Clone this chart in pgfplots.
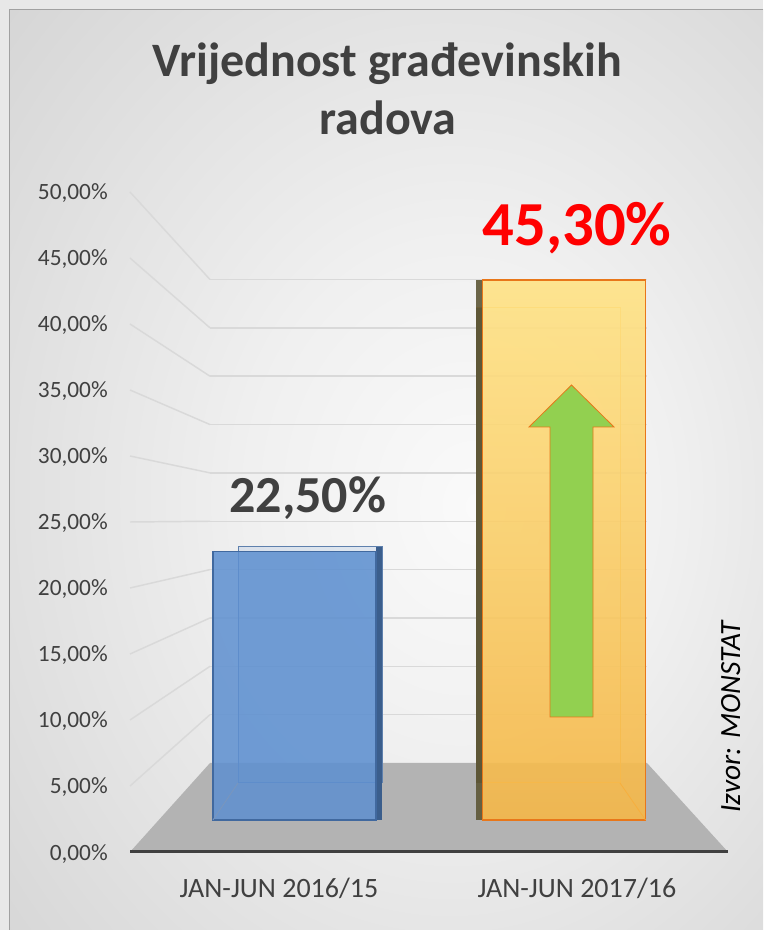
\documentclass[border=0pt]{standalone}
\usepackage{fontspec}
\setmainfont{Carlito}
\usepackage{pgfplots}
\pgfplotsset{compat=1.18}

\definecolor{outerbg}{HTML}{E8E8E8}
\definecolor{pc0}{HTML}{FAFAFA}
\definecolor{pc1}{HTML}{F0F0F0}
\definecolor{pc2}{HTML}{D4D4D4}
\definecolor{pc3}{HTML}{BEBEBE}
\definecolor{txt}{HTML}{404040}
\definecolor{gridc}{HTML}{D9D9D9}
\definecolor{floorc}{HTML}{B3B3B3}
\definecolor{bluef}{HTML}{5E90D0}
\definecolor{bluee}{HTML}{41699F}
\definecolor{blues}{HTML}{3B5E8C}
\definecolor{orgtop}{HTML}{FFE386}
\definecolor{orgbot}{HTML}{F5B748}
\definecolor{orge}{HTML}{E8771A}
\definecolor{orgs}{HTML}{5D5636}
\definecolor{arrowg}{HTML}{92D050}

\pgfdeclareradialshading{panelshade}{\pgfpoint{6bp}{-2bp}}{color(0bp)=(pc0); color(14bp)=(pc1); color(40bp)=(pc2); color(75bp)=(pc3)}

\pgfplotsset{
  common/.style={scale only axis, height=495pt, anchor=south west, clip=false,
    /pgf/number format/assume math mode=true,
    axis line style={draw=none}, tick style={draw=none},
    xtick=\empty, ytick=\empty},
}

\begin{document}
\begin{tikzpicture}
\begin{scope}[x=0.75pt,y=0.75pt]
  \fill[outerbg] (0,0) rectangle (763,930);
  \shade[shading=panelshade] (9,0) rectangle (763,920);
  \draw[color=pc3!85!black, line width=0.75pt] (9,0) -- (9,920) -- (763,920);
\end{scope}

% tick labels (front scale)
\begin{axis}[common, width=448.5pt, at={(97.5pt,58.5pt)},
  xmin=-0.6104, xmax=1.6085, ymin=0, ymax=50,
  ytick={0,5,...,50},
  yticklabel={\pgfmathprintnumber[fixed,fixed zerofill,precision=2,use comma]{\tick}\%},
  yticklabel style={anchor=base east, inner sep=0pt, xshift=-16.5pt, yshift=-6pt,
    font=\fontsize{17.5}{20}\selectfont, text=txt},
  xtick={-0.0575,1.048},
  xticklabels={JAN-JUN 2016/15, JAN-JUN 2017/16},
  xticklabel style={anchor=base, inner sep=0pt, yshift=-33.75pt,
    font=\fontsize{21}{24}\selectfont, text=txt},
]
\pgfplotsinvokeforeach{5,10,...,50}{\coordinate (L#1) at (axis cs:-0.6104,#1);}
\coordinate (LL) at (rel axis cs:0,0);
\coordinate (LR) at (rel axis cs:1,0);
\end{axis}

% back wall grid
\begin{axis}[common, width=327.75pt, at={(157.5pt,58.5pt)},
  xmin=0, xmax=1, ymin=-9.204, ymax=59.05,
  ytick={5,10,...,50}, yticklabels={}, ymajorgrids,
  grid style={gridc, line width=1.1pt}]
\pgfplotsinvokeforeach{5,10,...,50}{\coordinate (G#1) at (axis cs:0,#1);}
\coordinate (GL) at (axis cs:0,0);
\coordinate (GR) at (axis cs:1,0);
\end{axis}

\foreach \v in {5,10,...,50} \draw[gridc, line width=1.1pt] (L\v) -- (G\v);
\fill[floorc] (LL) -- (GL) -- (GR) -- (LR) -- cycle;
\draw[txt, line width=2.25pt] (LL) -- (LR);

% back faces (back scale)
\begin{axis}[common, width=448.5pt, at={(97.5pt,58.5pt)},
  xmin=-0.6104, xmax=1.6085, ymin=-6.578, ymax=56.34]
\addplot[ybar, bar width=0.5343, bar shift=11.625pt, draw=bluee!85, line width=0.75pt, fill=bluef, fill opacity=0.15] coordinates {(0,22.5)};
\addplot[ybar, bar width=4.5pt, bar shift=63.375pt, fill=blues, draw=none] coordinates {(0,22.5)};
\addplot[ybar, bar width=0.5343, bar shift=-12pt, draw=orgbot!85!orange, line width=0.75pt, fill=none] coordinates {(1,45.3)};
\addplot[ybar, bar width=4.5pt, bar shift=-63.75pt, fill=orgs, fill opacity=0.9, draw=none] coordinates {(1,45.3)};
\coordinate (BBL) at (axis cs:-0.2096,0);
\coordinate (BBR) at (axis cs:1.2078,0);
\end{axis}

% front faces (front scale)
\begin{axis}[common, width=448.5pt, at={(97.5pt,58.5pt)},
  xmin=-0.6104, xmax=1.6085, ymin=-2.685, ymax=52.68]
\addplot[ybar, bar width=4.5pt, bar shift=63.375pt, fill=blues, draw=none] coordinates {(0,22.5)};
\addplot[ybar, bar width=4.5pt, bar shift=-63.75pt, fill=orgs, fill opacity=0.9, draw=none] coordinates {(1,45.3)};
\addplot[ybar, bar width=0.6048, bar shift=0pt, fill=bluef, fill opacity=0.86,
  draw=bluee, line width=1.1pt,
  nodes near coords={\pgfmathprintnumber[fixed,fixed zerofill,precision=2,use comma]{\pgfplotspointmeta}\%},
  every node near coord/.append style={anchor=base, yshift=29.25pt, xshift=10pt,
    font=\fontsize{39}{44}\selectfont\bfseries, text=txt, fill opacity=1, text opacity=1}]
  coordinates {(0,22.5)};
\addplot[ybar, bar width=0.6048, bar shift=0pt, top color=orgtop, bottom color=orgbot, fill opacity=0.9,
  draw=orge, line width=1.3pt,
  nodes near coords={\pgfmathprintnumber[fixed,fixed zerofill,precision=2,use comma]{\pgfplotspointmeta}\%},
  every node near coord/.append style={anchor=base, yshift=25.5pt, xshift=9.75pt,
    font=\fontsize{47}{52}\selectfont\bfseries, text=red, fill opacity=1, text opacity=1}]
  coordinates {(1,45.3)};
\coordinate (FBL) at (axis cs:-0.3024,0);
\coordinate (FBR) at (axis cs:1.3024,0);
\end{axis}

\draw[bluee!70, line width=0.6pt] (FBL) -- (BBL);
\draw[orgbot!85!orange, line width=0.6pt] (FBR) -- (BBR);

\begin{scope}[x=0.75pt,y=0.75pt]
  \filldraw[fill=arrowg, draw=orge, line width=0.6pt]
    (571.5,545) -- (614,503) -- (593,503) -- (593,213) -- (550,213) -- (550,503) -- (529,503) -- cycle;
  \node[anchor=base, text=txt, font=\fontsize{36}{41}\selectfont\bfseries] at (387,853) {Vrijednost građevinskih};
  \node[anchor=base, text=txt, font=\fontsize{36}{41}\selectfont\bfseries] at (388,795) {radova};
  \node[rotate=90, anchor=base, text=black, font=\fontsize{22}{26}\selectfont\itshape] at (740,213) {Izvor: MONSTAT};
\end{scope}

\pgfresetboundingbox
\useasboundingbox (0,0) rectangle (572.25pt,697.5pt);
\end{tikzpicture}
\end{document}
